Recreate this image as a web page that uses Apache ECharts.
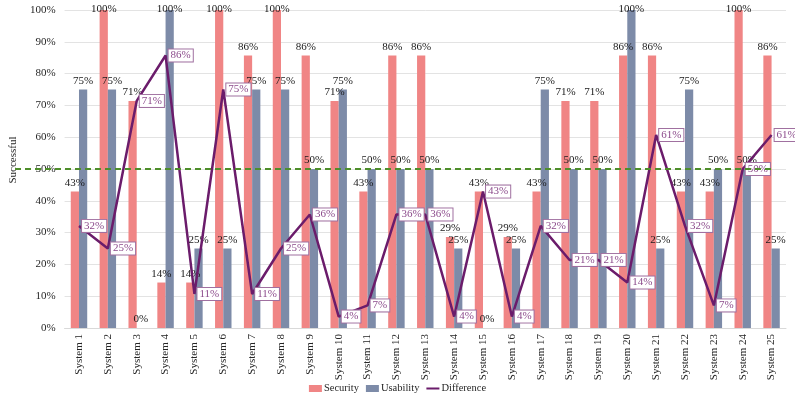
<!DOCTYPE html>
<html><head><meta charset="utf-8">
<script src="https://cdn.jsdelivr.net/npm/echarts@6/dist/echarts.min.js"></script>
<style>html,body{margin:0;padding:0;background:#fff}#c{width:795px;height:402px}</style>
</head><body><div id="c"></div>
<script>
const categories = ['System 1','System 2','System 3','System 4','System 5','System 6','System 7','System 8','System 9','System 10','System 11','System 12','System 13','System 14','System 15','System 16','System 17','System 18','System 19','System 20','System 21','System 22','System 23','System 24','System 25'];
const security = [42.9,100,71.4,14.3,14.3,100,85.7,100,85.7,71.4,42.9,85.7,85.7,28.6,42.9,28.6,42.9,71.4,71.4,85.7,85.7,42.9,42.9,100,85.7];
const usability = [75,75,0,100,25,25,75,75,50,75,50,50,50,25,0,25,75,50,50,100,25,75,50,50,25];
const difference = [32.1,25,71.4,85.7,10.7,75,10.7,25,35.7,3.6,7.1,35.7,35.7,3.6,42.9,3.6,32.1,21.4,21.4,14.3,60.7,32.1,7.1,50,60.7];
const yTicks = [0,10,20,30,40,50,60,70,80,90,100];
const threshold = 50;

const FONT = 'Liberation Serif';
const pct = v => Math.round(v) + '%';
function barData(arr){
  return arr.map(v => v >= 100 ? {value:v, label:{offset:[0,8]}} : v);
}
const lineIcon = 'path://M0,0L0.01,0L0.01,0.01ZM0,2.5L13,2.5L13,4.5L0,4.5ZM12.99,6.99L13,7L12.99,7Z';
const chart = echarts.init(document.getElementById('c'));
chart.setOption({
  animation:false,
  textStyle:{fontFamily:FONT},
  grid:{left:44,right:9,top:10,bottom:74},
  legend:{
    data:[{name:'Security',icon:'rect'},{name:'Usability',icon:'rect'},{name:'Difference',icon:lineIcon}],
    bottom:3, left:'center', itemWidth:13, itemHeight:7, itemGap:7,
    textStyle:{fontFamily:FONT,fontSize:10.5,color:'#262626',padding:[0,0,0,-3]}
  },
  xAxis:{
    type:'category', data:categories,
    axisLine:{lineStyle:{color:'#d9d9d9'}}, axisTick:{show:false},
    axisLabel:{rotate:90, fontFamily:FONT, fontSize:11, color:'#262626', margin:6, interval:0}
  },
  yAxis:{
    type:'value', min:0, max:100, interval:10,
    name:'Successful', nameLocation:'middle', nameGap:34,
    nameTextStyle:{fontFamily:FONT, fontSize:11, color:'#262626', padding:[0,0,0,18]},
    axisLabel:{formatter:v=>v+'%', fontFamily:FONT, fontSize:11, color:'#262626', margin:9},
    splitLine:{lineStyle:{color:'#e3e3e3'}}
  },
  series:[
    {name:'Security', type:'bar', data:barData(security), barGap:'0%', barCategoryGap:'43%',
     itemStyle:{color:'#F08585'},
     label:{show:true, position:'top', distance:3, formatter:p=>pct(p.value), fontFamily:FONT, fontSize:11, color:'#1a1a1a'},
     markLine:{symbol:'none', silent:true, label:{show:false},
       lineStyle:{color:'#4E8E2A', type:[6,4], width:2},
       data:[[{xAxis:0, yAxis:threshold, x:15},{xAxis:24, yAxis:threshold, x:773}]]}
    },
    {name:'Usability', type:'bar', data:barData(usability),
     itemStyle:{color:'#7D8BA8'},
     label:{show:true, position:'top', distance:3, formatter:p=>pct(p.value), fontFamily:FONT, fontSize:11, color:'#1a1a1a'}
    },
    {name:'Difference', type:'line', data:difference, symbol:'circle', symbolSize:0.1,
     lineStyle:{color:'#6B1C6B', width:2.5}, itemStyle:{color:'#6B1C6B'},
     label:{show:true, position:'right', distance:3, formatter:p=>pct(p.value), fontFamily:FONT, fontSize:11,
       color:'#8B4A8B', borderColor:'#A070A0', borderWidth:1, backgroundColor:'#fff', padding:[1,2,0,2]}
    }
  ]
});
</script></body></html>
